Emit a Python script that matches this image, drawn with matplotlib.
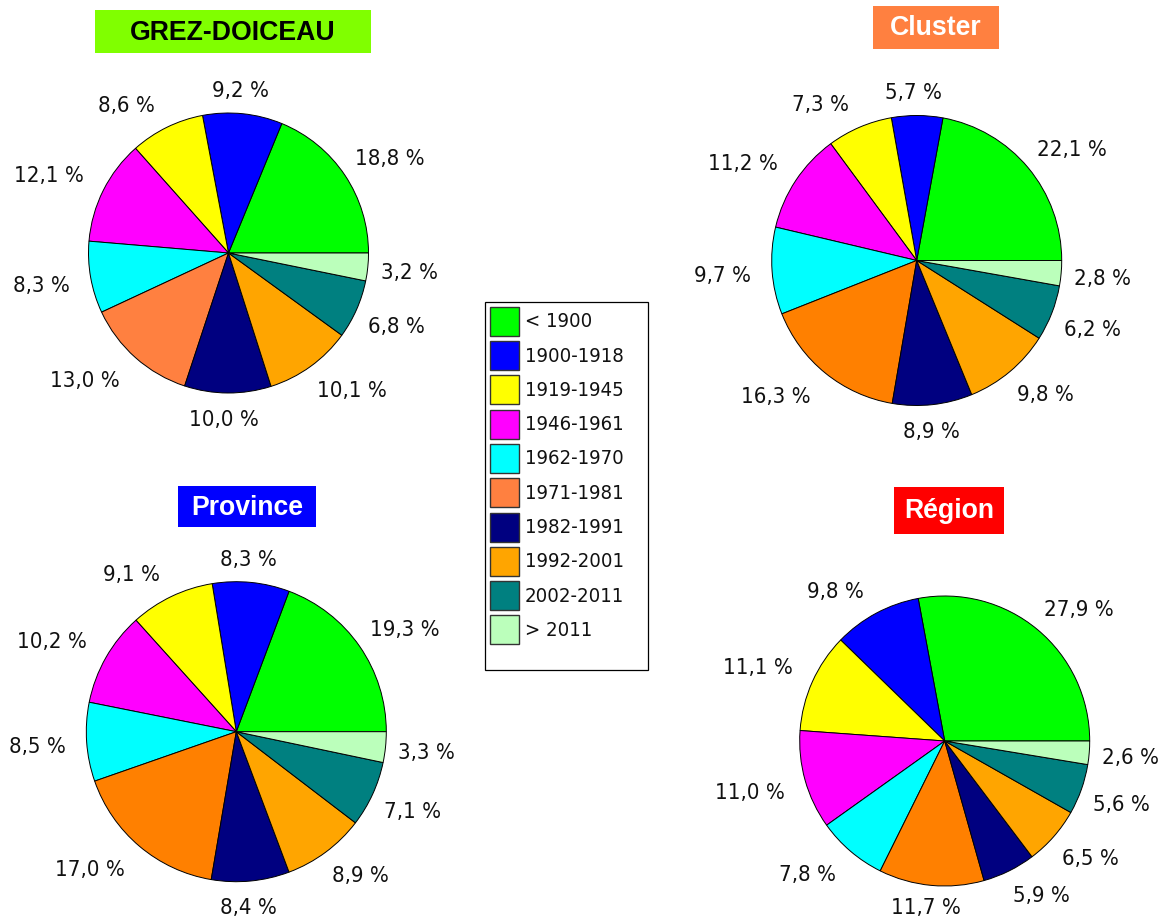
import matplotlib
matplotlib.use('Agg')
import matplotlib.pyplot as plt
from matplotlib.patches import Rectangle
from matplotlib import font_manager
import numpy as np

W, H = 1160, 919
DPI = 100

categories = ['< 1900', '1900-1918', '1919-1945', '1946-1961', '1962-1970',
              '1971-1981', '1982-1991', '1992-2001', '2002-2011', '> 2011']
grez = [18.8, 9.2, 8.6, 12.1, 8.3, 13.0, 10.0, 10.1, 6.8, 3.2]
cluster = [22.1, 5.7, 7.3, 11.2, 9.7, 16.3, 8.9, 9.8, 6.2, 2.8]
province = [19.3, 8.3, 9.1, 10.2, 8.5, 17.0, 8.4, 8.9, 7.1, 3.3]
region = [27.9, 9.8, 11.1, 11.0, 7.8, 11.7, 5.9, 6.5, 5.6, 2.6]
titles = ['GREZ-DOICEAU', 'Cluster', 'Province', 'Région']

colors_legend = ['#00FF00', '#0000FF', '#FFFF00', '#FF00FF', '#00FFFF',
                 '#FF8040', '#000080', '#FFA500', '#008080', '#BBFFBB']
colors_alt = list(colors_legend)
colors_alt[5] = '#FF8000'

has_cond = any(f.name == 'DejaVu Sans' and f.stretch == 'condensed'
               for f in font_manager.fontManager.ttflist)
if has_cond:
    gf = dict(family='DejaVu Sans', stretch='condensed', size=14.6, color='#111111')
    lf = dict(family='DejaVu Sans', stretch='condensed', size=15.9, color='#111111')
else:
    gf = dict(family='DejaVu Sans', size=13.3, color='#111111')
    lf = dict(family='DejaVu Sans', size=14.5, color='#111111')
tf = dict(family='Liberation Sans', weight='bold', size=19.2)

fig = plt.figure(figsize=(W / DPI, H / DPI), dpi=DPI)
ax = fig.add_axes([0, 0, 1, 1])
ax.set_axis_off()


def Y(y):
    return H - y


panels = [
    dict(vals=grez, cols=colors_legend, cx=228.5, cy=253, r=140,
         box=(95, 10, 371, 52.7), bcol='#80FF00', tcol='black', base=40),
    dict(vals=cluster, cols=colors_alt, cx=916.7, cy=260.5, r=145,
         box=(873, 6, 999, 49), bcol='#FF8040', tcol='white', base=35),
    dict(vals=province, cols=colors_alt, cx=236.3, cy=731.7, r=150,
         box=(178, 486, 316, 526.7), bcol='#0000FF', tcol='white', base=515),
    dict(vals=region, cols=colors_alt, cx=944.7, cy=741, r=145,
         box=(894, 487, 1004, 534), bcol='#FF0000', tcol='white', base=518.3),
]

for p, title in zip(panels, titles):
    ax.pie(p['vals'], colors=p['cols'], startangle=0, counterclock=True,
           center=(p['cx'], Y(p['cy'])), radius=p['r'],
           wedgeprops=dict(edgecolor='black', linewidth=0.7), frame=True)
    x0, y0, x1, y1 = p['box']
    ax.add_patch(Rectangle((x0, Y(y1)), x1 - x0, y1 - y0, facecolor=p['bcol'],
                           edgecolor='none', zorder=3))
    ax.text((x0 + x1) / 2, Y(p['base']), title, ha='center', va='baseline',
            color=p['tcol'], zorder=4, **tf)

ax.set_xlim(0, W)
ax.set_ylim(0, H)
ax.set_aspect('equal')

renderer = fig.canvas.get_renderer()
gap_x, gap_y = 17, 15
xshift, yshift = -4, -2
for p in panels:
    vals = p['vals']
    total = sum(vals)
    start = 0.0
    for v in vals:
        mid = (start + v / 2) / total * 360.0
        start += v
        th = np.deg2rad(mid)
        c, s = np.cos(th), np.sin(th)
        px = p['cx'] + (p['r'] + gap_x) * c + xshift
        py = Y(p['cy']) + (p['r'] + gap_y) * s + yshift
        lab = f'{v:.1f}'.replace('.', ',') + ' %'
        t = ax.text(px, py, lab, ha='center', va='center', **lf)
        bb = t.get_window_extent(renderer)
        w, h = bb.width, bb.height
        fx = np.sign(c) * np.clip((abs(c) - 0.1) / 0.25, 0, 1)
        fy = np.clip(s * 2.5, -1, 1)
        nx, ny = px + w / 2 * fx, py + h / 2 * fy
        # keep the label inside the picture
        bottom = ny - h / 2
        if bottom < 1:
            ny += 1 - bottom
        t.set_position((nx, ny))

# legend
lx0, ly0, lx1, ly1 = 484.7, 301.7, 648, 670
ax.add_patch(Rectangle((lx0, Y(ly1)), lx1 - lx0, ly1 - ly0, facecolor='white',
                       edgecolor='black', linewidth=0.9, zorder=2))
for i, (cat, col) in enumerate(zip(categories, colors_legend)):
    top = 306.7 + i * 34.3
    ax.add_patch(Rectangle((490, Y(top + 29)), 29, 29, facecolor=col,
                           edgecolor='#333333', linewidth=1.0, zorder=3))
    ax.text(525, Y(top + 20.5), cat, ha='left', va='baseline', zorder=4, **gf)

fig.savefig('out.png', dpi=DPI)
